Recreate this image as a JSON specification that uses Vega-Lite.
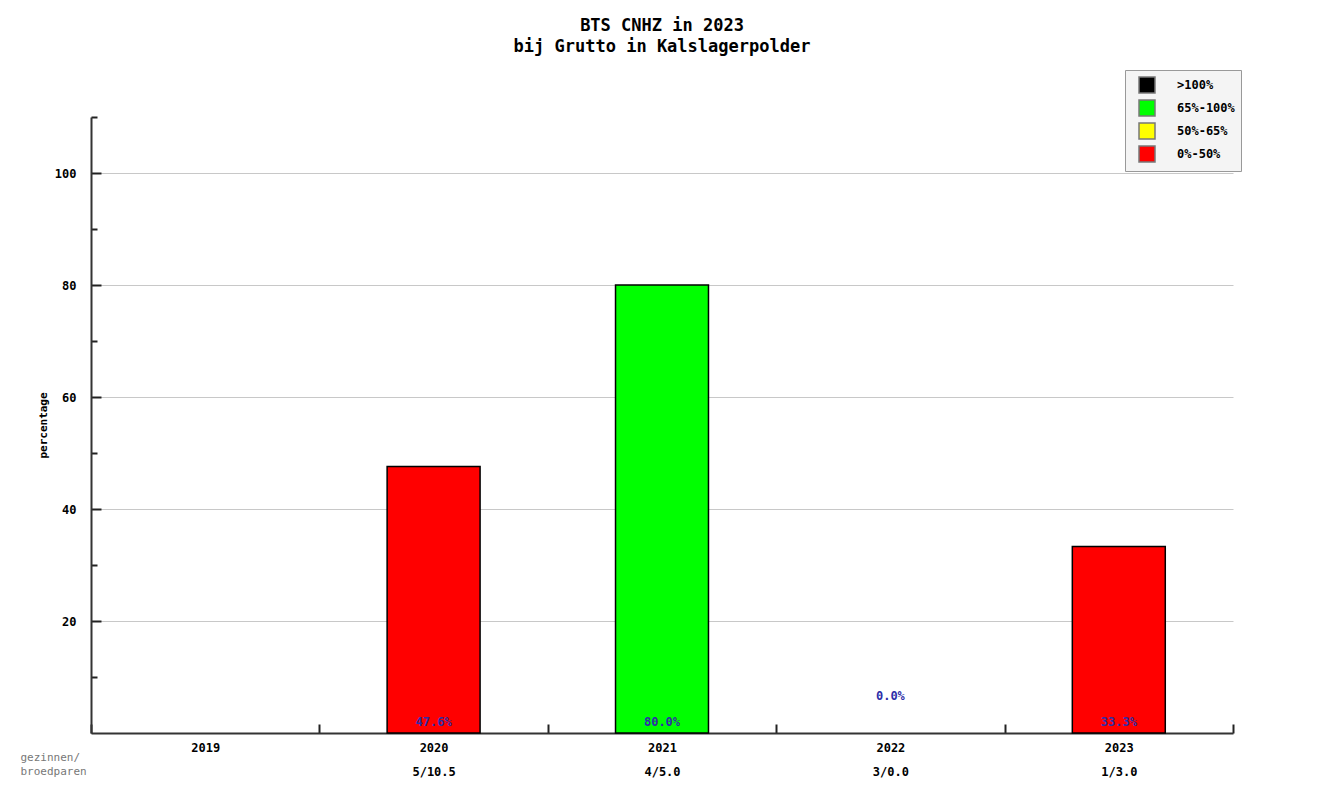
{
  "$schema": "https://vega.github.io/schema/vega-lite/v6.json",
  "width": 1142,
  "height": 616,
  "autosize": "none",
  "padding": {"left": 91, "top": 117, "right": 92, "bottom": 59},
  "background": "white",
  "config": {"view": {"stroke": null}},
  "title": {
    "text": ["BTS CNHZ in 2023", "bij Grutto in Kalslagerpolder"],
    "font": "DejaVu Sans Mono",
    "fontSize": 17,
    "fontWeight": "bold",
    "lineHeight": 21,
    "offset": 14,
    "anchor": "middle",
    "color": "black"
  },
  "data": {
    "values": [
      {"year": "2019", "pairs": "", "pct": null, "klasse": null, "label": ""},
      {"year": "2020", "pairs": "5/10.5", "pct": 47.6, "klasse": "0%-50%", "label": "47.6%"},
      {"year": "2021", "pairs": "4/5.0", "pct": 80.0, "klasse": "65%-100%", "label": "80.0%"},
      {"year": "2022", "pairs": "3/0.0", "pct": 0.0, "klasse": "0%-50%", "label": "0.0%"},
      {"year": "2023", "pairs": "1/3.0", "pct": 33.3, "klasse": "0%-50%", "label": "33.3%"}
    ]
  },
  "transform": [{"calculate": "datum.year + '|' + datum.pairs", "as": "xlab"}],
  "encoding": {
    "x": {
      "field": "xlab",
      "type": "ordinal",
      "sort": "ascending",
      "scale": {"paddingInner": 0, "paddingOuter": 0},
      "axis": {
        "title": ["gezinnen/", "broedparen"],
        "titleFont": "DejaVu Sans Mono",
        "titleFontSize": 11,
        "titleFontWeight": "normal",
        "titleColor": "#777777",
        "titleAlign": "left",
        "titleBaseline": "top",
        "titleAnchor": "start",
        "titleX": -71,
        "titleY": 18,
        "titleLineHeight": 14,
        "labelExpr": "split(datum.label, '|')",
        "labelAngle": 0,
        "labelFont": "DejaVu Sans Mono",
        "labelFontSize": 12,
        "labelFontWeight": "bold",
        "labelColor": "black",
        "labelLineHeight": 24,
        "labelBaseline": "top",
        "labelPadding": 18,
        "tickBand": "extent",
        "tickSize": -9,
        "tickColor": "#222222",
        "tickWidth": 2,
        "domainColor": "#333333",
        "domainWidth": 2,
        "grid": false
      }
    }
  },
  "layer": [
    {
      "transform": [{"filter": "datum.pct > 0"}],
      "mark": {"type": "bar", "width": {"band": 0.407}, "stroke": "black", "strokeWidth": 1.5},
      "encoding": {
        "y": {
          "field": "pct",
          "type": "quantitative",
          "scale": {"domain": [0, 110], "nice": false},
          "axis": {
            "title": "percentage",
            "titleFont": "DejaVu Sans Mono",
            "titleFontSize": 11,
            "titleFontWeight": "bold",
            "titleColor": "black",
            "titleX": -48,
            "titleY": 308,
            "titleAngle": -90,
            "titleAlign": "center",
            "titleBaseline": "middle",
            "values": [10, 20, 30, 40, 50, 60, 70, 80, 90, 100, 110],
            "labelExpr": "datum.value % 20 === 0 && datum.value <= 100 ? datum.label : ''",
            "labelFont": "DejaVu Sans Mono",
            "labelFontSize": 12,
            "labelFontWeight": "bold",
            "labelColor": "black",
            "labelPadding": 25,
            "tickSize": {"condition": {"test": "datum.value % 20 === 0 && datum.value <= 100", "value": -10}, "value": -6},
            "tickColor": "#222222",
            "tickWidth": 2,
            "domainColor": "#333333",
            "domainWidth": 2,
            "grid": true,
            "gridColor": "#c8c8c8",
            "gridWidth": 1,
            "gridOpacity": {"condition": {"test": "datum.value % 20 === 0 && datum.value <= 100", "value": 1}, "value": 0}
          }
        },
        "color": {
          "field": "klasse",
          "type": "nominal",
          "scale": {
            "domain": [">100%", "65%-100%", "50%-65%", "0%-50%"],
            "range": ["#000000", "#00ff00", "#ffff00", "#ff0000"]
          },
          "legend": {
            "orient": "none",
            "legendX": 1034,
            "legendY": -47,
            "title": null,
            "fillColor": "#f4f4f4",
            "strokeColor": "#999999",
            "padding": 6,
            "symbolOffset": 7,
            "symbolType": "square",
            "symbolSize": 256,
            "symbolStrokeColor": "#777777",
            "symbolStrokeWidth": 1.5,
            "symbolOpacity": 1,
            "labelFont": "DejaVu Sans Mono",
            "labelFontSize": 12,
            "labelFontWeight": "bold",
            "labelColor": "black",
            "labelOffset": 21,
            "labelExpr": "datum.label + '\u00a0\u00a0'",
            "rowPadding": 1
          }
        }
      }
    },
    {
      "mark": {"type": "text", "baseline": "bottom", "align": "center", "dy": -4, "font": "DejaVu Sans Mono", "fontSize": 12, "fontWeight": "bold", "color": "#2e2ea8"},
      "encoding": {
        "y": {"datum": 0, "type": "quantitative"},
        "text": {"condition": {"test": "datum.pct > 0", "field": "label"}, "value": ""}
      }
    },
    {
      "mark": {"type": "text", "baseline": "bottom", "align": "center", "dy": -30, "font": "DejaVu Sans Mono", "fontSize": 12, "fontWeight": "bold", "color": "#2e2ea8"},
      "encoding": {
        "y": {"datum": 0, "type": "quantitative"},
        "text": {"condition": {"test": "datum.pct === 0", "field": "label"}, "value": ""}
      }
    }
  ]
}
